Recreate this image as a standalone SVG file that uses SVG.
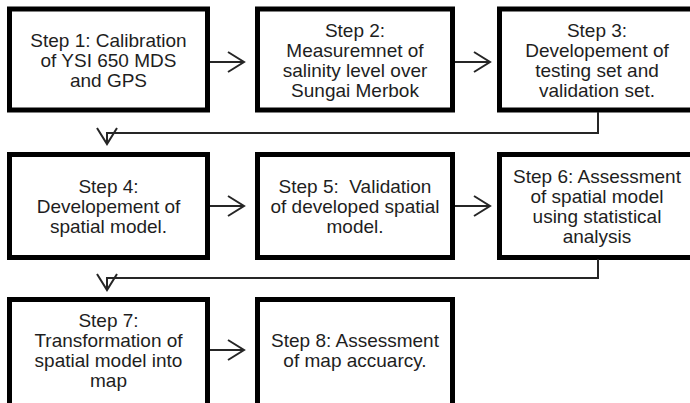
<svg xmlns="http://www.w3.org/2000/svg" width="690" height="403" viewBox="0 0 690 403">
  <style>
    .box { fill: #ffffff; stroke: #000000; stroke-width: 5; }
    .lbl { font-family: "Liberation Sans", Arial, sans-serif; font-size: 19px; fill: #1e1e1e; text-anchor: middle; }
    .conn { fill: none; stroke: #262626; stroke-width: 2; }
  </style>
  <defs>
    <marker id="vhead" viewBox="-18 -12 20 24" markerWidth="20" markerHeight="24" refX="0" refY="0" orient="auto" markerUnits="userSpaceOnUse" overflow="visible">
      <path d="M-16,-10 L0,0 L-16,10" fill="none" stroke="#262626" stroke-width="2"/>
    </marker>
  </defs>
  <rect width="690" height="403" fill="#ffffff"/>

  <!-- row 1 -->
  <g id="step1">
    <rect class="box" x="9.5" y="9" width="198" height="101"/>
    <text class="lbl" x="108.5" y="46.7">Step 1: Calibration</text>
    <text class="lbl" x="108.5" y="66.7">of YSI 650 MDS</text>
    <text class="lbl" x="108.5" y="86.7">and GPS</text>
  </g>
  <g id="step2">
    <rect class="box" x="257.5" y="9" width="195" height="101"/>
    <text class="lbl" x="355" y="37">Step 2:</text>
    <text class="lbl" x="355" y="57">Measuremnet of</text>
    <text class="lbl" x="355" y="77">salinity level over</text>
    <text class="lbl" x="355" y="97">Sungai Merbok</text>
  </g>
  <g id="step3">
    <rect class="box" x="499.5" y="9" width="195" height="101"/>
    <text class="lbl" x="597" y="37">Step 3:</text>
    <text class="lbl" x="597" y="57">Developement of</text>
    <text class="lbl" x="597" y="77">testing set and</text>
    <text class="lbl" x="597" y="97">validation set.</text>
  </g>

  <!-- row 2 -->
  <g id="step4">
    <rect class="box" x="9.5" y="154.5" width="198" height="103"/>
    <text class="lbl" x="108.5" y="193">Step 4:</text>
    <text class="lbl" x="108.5" y="213">Developement of</text>
    <text class="lbl" x="108.5" y="233">spatial model.</text>
  </g>
  <g id="step5">
    <rect class="box" x="257.5" y="154.5" width="195" height="103"/>
    <text class="lbl" x="355" y="193" xml:space="preserve">Step 5:  Validation</text>
    <text class="lbl" x="355" y="213">of developed spatial</text>
    <text class="lbl" x="355" y="233">model.</text>
  </g>
  <g id="step6">
    <rect class="box" x="499.5" y="154.5" width="195" height="103"/>
    <text class="lbl" x="597" y="183">Step 6: Assessment</text>
    <text class="lbl" x="597" y="203">of spatial model</text>
    <text class="lbl" x="597" y="223">using statistical</text>
    <text class="lbl" x="597" y="243">analysis</text>
  </g>

  <!-- row 3 -->
  <g id="step7">
    <rect class="box" x="9.5" y="299.5" width="198" height="110"/>
    <text class="lbl" x="108.5" y="327">Step 7:</text>
    <text class="lbl" x="108.5" y="347">Transformation of</text>
    <text class="lbl" x="108.5" y="367">spatial model into</text>
    <text class="lbl" x="108.5" y="387">map</text>
  </g>
  <g id="step8">
    <rect class="box" x="257.5" y="299.5" width="195" height="110"/>
    <text class="lbl" x="355" y="347">Step 8: Assessment</text>
    <text class="lbl" x="355" y="367">of map accuarcy.</text>
  </g>

  <!-- connectors -->
  <g id="connectors">
    <path class="conn" d="M210,62 H244" marker-end="url(#vhead)"/>
    <path class="conn" d="M455,62 H490" marker-end="url(#vhead)"/>
    <path class="conn" d="M598,112 V133 H107 V144" marker-end="url(#vhead)"/>
    <path class="conn" d="M210,206 H244" marker-end="url(#vhead)"/>
    <path class="conn" d="M455,206 H490" marker-end="url(#vhead)"/>
    <path class="conn" d="M598,259 V278 H107 V290" marker-end="url(#vhead)"/>
    <path class="conn" d="M210,350 H244" marker-end="url(#vhead)"/>
  </g>
</svg>
